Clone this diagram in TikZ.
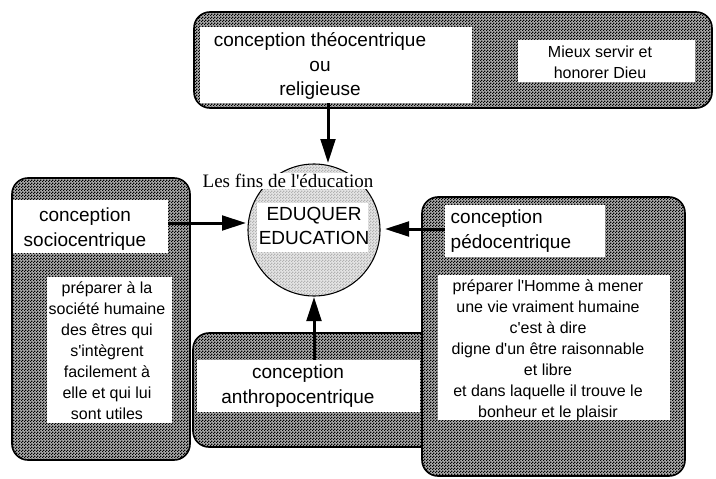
\documentclass[tikz,border=0pt]{standalone}
\usepackage{fontspec}
\newfontfamily\arialfont{Liberation Sans}
\newfontfamily\timesfont{Liberation Serif}
\usetikzlibrary{arrows.meta,patterns}

\pgfdeclarepatternformonly{damier}{\pgfqpoint{0pt}{0pt}}{\pgfqpoint{2.25pt}{2.25pt}}{\pgfqpoint{2.25pt}{2.25pt}}{%
  \pgfpathrectangle{\pgfqpoint{0pt}{0pt}}{\pgfqpoint{1.125pt}{1.125pt}}%
  \pgfpathrectangle{\pgfqpoint{1.125pt}{1.125pt}}{\pgfqpoint{1.125pt}{1.125pt}}%
  \pgfusepath{fill}}

\begin{document}
\begin{tikzpicture}[x=0.75pt, y=-0.75pt,
  cadre/.style={draw, line width=1.2pt, rounded corners=12pt, preaction={fill=gray!65}, pattern=damier, inner sep=0pt},
  blanc/.style={fill=white, inner sep=0pt},
  titre/.style={font=\arialfont\fontsize{14.25}{18.5}\selectfont, align=center},
  corps/.style={font=\arialfont\fontsize{12}{15.75}\selectfont, align=center},
  fleche/.style={line width=2.25pt, -{Triangle[length=18pt,width=11pt]}}]

\useasboundingbox (0,0) rectangle (716,478);

% conception theocentrique
\node [cadre, minimum width=388.5pt, minimum height=72pt] (theobox) at (453,60) {};
\node [blanc, minimum width=204pt, minimum height=57pt] (theo) at (336,65) {};
\node [titre] (theot) at (320,66) {conception théocentrique\\ou\\religieuse};
\node [blanc, minimum width=132.75pt, minimum height=31.5pt] (mieux) at (606.5,61) {};
\node [corps] (mieuxt) at (600,62) {Mieux servir et\\ honorer Dieu};

% conception sociocentrique
\node [cadre, minimum width=133.5pt, minimum height=211.5pt] (sociobox) at (101,319) {};
\node [blanc, minimum width=116.25pt, minimum height=39.75pt] (socio) at (90.5,226.5) {};
\node [titre] (sociot) at (85,229) {conception\\sociocentrique};
\node [blanc, minimum width=93.75pt, minimum height=109.5pt] (sociofin) at (109.5,350) {};
\node [corps] (sociofint) at (107,351) {préparer à la\\société humaine\\des êtres qui\\s'intègrent\\facilement à\\elle et qui lui\\sont utiles};

% conception anthropocentrique
\node [cadre, minimum width=185.25pt, minimum height=85.5pt] (anthrobox) at (316.5,390) {};
\node [blanc, minimum width=167.25pt, minimum height=39pt] (anthro) at (308.5,386) {};
\node [titre] (anthrot) at (298,386) {conception\\anthropocentrique};

% conception pedocentrique
\node [cadre, minimum width=197.25pt, minimum height=209.25pt] (pedobox) at (553.5,336.5) {};
\node [blanc, minimum width=120pt, minimum height=39pt] (pedo) at (525,231) {};
\node [titre, align=left, anchor=west] (pedot) at (446,231) {conception\\pédocentrique};
\node [blanc, minimum width=174pt, minimum height=108.75pt] (pedofin) at (554,347.5) {};
\node [corps] (pedofint) at (548,350.5) {préparer l'Homme à mener\\une vie vraiment humaine\\c'est à dire\\digne d'un être raisonnable\\et libre\\et dans laquelle il trouve le\\bonheur et le plaisir};

% eduquer
\node [circle, draw, line width=0.8pt, minimum size=99pt, inner sep=0pt, preaction={fill=gray!20}, pattern=damier, pattern color=gray!60] (circ) at (314,230) {};
\node [blanc, minimum width=83.25pt, minimum height=36.75pt] (edu) at (312.5,227.5) {};
\node [titre] (edut) at (314,226) {EDUQUER\\EDUCATION};
\node [fill=white, inner sep=1pt, font=\timesfont\fontsize{14.25}{17}\selectfont] (fins) at (288,181) {Les fins de l'éducation};

% fleches
\coordinate (tipT) at (328,163);
\coordinate (tipL) at (246,223);
\coordinate (tipR) at (385,229);
\coordinate (tipB) at (314,297);
\draw [fleche] (theo.south -| tipT) -- (tipT);
\draw [fleche] (socio.east |- tipL) -- (tipL);
\draw [fleche] (pedo.west |- tipR) -- (tipR);
\draw [fleche] (anthro.north -| tipB) -- (tipB);
\end{tikzpicture}
\end{document}
